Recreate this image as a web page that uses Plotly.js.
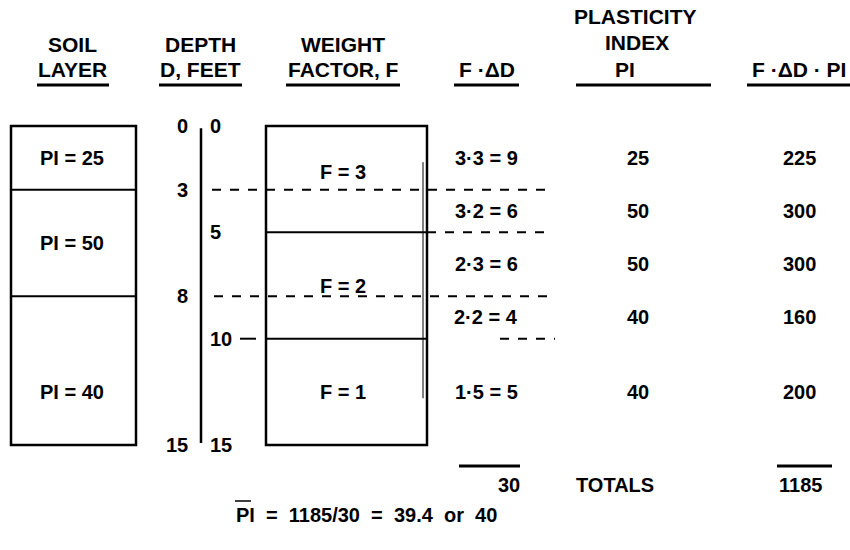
<!DOCTYPE html>
<html><head><meta charset="utf-8">
<script src="https://cdn.plot.ly/plotly-3.0.1.min.js"></script>
<style>html,body{margin:0;padding:0;background:#fff}#plot{width:850px;height:550px}</style>
</head><body><div id="plot"></div>
<script>
// ---- data ----
const soilTop = [0, 3, 8];
const soilBottom = [3, 8, 15];
const soilPI = [25, 50, 40];
const weightTop = [0, 5, 10];
const weightBottom = [5, 10, 15];
const weightF = [3, 2, 1];
const subTop = [0, 3, 5, 8, 10];
const subBottom = [3, 5, 8, 10, 15];
const subF = [3, 3, 2, 2, 1];
const subDD = [3, 2, 3, 2, 5];
const subFDD = [9, 6, 6, 4, 5];
const subPI = [25, 50, 50, 40, 40];
const subProd = [225, 300, 300, 160, 200];
const totalFDD = 30;
const totalProd = 1185;
const avgPI = 39.4;
const roundedPI = 40;

// ---- layout helpers ----
const PX_PER_FT = 21.27, TOP_PX = 126;
const py = p => 1 - p / 550; // paper y from pixel
const FONT = {family: 'Liberation Sans, Arial, sans-serif', size: 20, color: '#000'};
const HFONT = {family: 'Liberation Sans, Arial, sans-serif', size: 21, color: '#000'};
const ann = [], shapes = [];
function txt(x, y, t, opt) {
  ann.push(Object.assign({x: x, y: y, xref: 'x', yref: 'y', text: '<b>' + t + '</b>', showarrow: false,
    font: FONT, xanchor: 'center', yanchor: 'middle'}, opt || {}));
}
function ptxt(x, p, t, opt) { txt(x, py(p), t, Object.assign({yref: 'paper'}, opt || {})); }
function htxt(x, p, t) { ptxt(x, p, t, {font: HFONT}); }
function line(x0, x1, y0, y1, w, dash, yref) {
  shapes.push({type: 'line', xref: 'x', yref: yref || 'y', x0: x0, x1: x1, y0: y0, y1: y1,
    line: {color: '#000', width: w, dash: dash || 'solid'}});
}

// headers
htxt(72, 45, 'SOIL'); htxt(72, 70, 'LAYER'); line(37, 109, py(85), py(85), 3, 'solid', 'paper');
htxt(200, 45, 'DEPTH'); htxt(200, 70, 'D, FEET'); line(159, 242, py(85), py(85), 3, 'solid', 'paper');
htxt(343, 45, 'WEIGHT'); htxt(343, 70, 'FACTOR, F'); line(286, 400, py(85), py(85), 3, 'solid', 'paper');
htxt(487, 70, 'F ·ΔD'); line(454, 519, py(85), py(85), 3, 'solid', 'paper');
htxt(635, 17, 'PLASTICITY'); htxt(637, 43, 'INDEX'); htxt(625, 70, 'PI'); line(576, 711, py(85), py(85), 3, 'solid', 'paper');
htxt(799, 70, 'F ·ΔD · PI'); line(747, 850, py(85), py(85), 3, 'solid', 'paper');

// soil layer column
shapes.push({type: 'rect', xref: 'x', yref: 'y', x0: 11, x1: 136, y0: soilTop[0], y1: soilBottom[soilBottom.length - 1],
  line: {color: '#000', width: 2.5}});
soilTop.forEach((t, i) => {
  if (i > 0) line(11, 136, t, t, 2);
  const mid = i === 2 ? 12.5 : (t + soilBottom[i]) / 2;
  txt(72, mid, 'PI = ' + soilPI[i]);
});

// depth scale
line(201, 201, 0.1, 14.9, 2.5);
const leftLabels = [0].concat(soilBottom);
leftLabels.forEach(d => txt(190, d, String(d), {xanchor: 'right'}));
const rightLabels = [0].concat(weightBottom);
rightLabels.forEach(d => txt(208, d, String(d), {xanchor: 'left'}));

// weight factor column
shapes.push({type: 'rect', xref: 'x', yref: 'y', x0: 266, x1: 427, y0: weightTop[0], y1: weightBottom[weightBottom.length - 1],
  line: {color: '#000', width: 2.5}});
line(423, 423, 1.7, 12.8, 1);
weightTop.forEach((t, i) => {
  if (i > 0) line(266, 427, t, t, 2);
  txt(343, (t + weightBottom[i]) / 2 - (i === 0 ? 0.35 : 0), 'F = ' + weightF[i]);
});

// sublayer boundary dashes
line(212, 553, soilBottom[0], soilBottom[0], 2, 'dash');
line(214, 553, soilBottom[1], soilBottom[1], 2, 'dash');
line(427, 553, weightBottom[0], weightBottom[0], 2, 'dash');
line(240, 256, weightBottom[1], weightBottom[1], 2, 'solid');
line(500, 555, weightBottom[1], weightBottom[1], 2, 'dash');

// table rows
subTop.forEach((t, i) => {
  const mid = (t + subBottom[i]) / 2;
  txt(486, mid, subF[i] + '·' + subDD[i] + ' = ' + subFDD[i]);
  txt(638, mid, String(subPI[i]));
  txt(799, mid, String(subProd[i]));
});

// totals
line(459, 520, py(466), py(466), 3, 'solid', 'paper');
ptxt(522, 485, String(totalFDD), {xanchor: 'right'});
ptxt(615, 485, 'TOTALS');
line(777, 832, py(466), py(466), 3, 'solid', 'paper');
ptxt(800, 485, String(totalProd));

// average
ptxt(234, 515, 'PI &nbsp;= &nbsp;' + totalProd + '/' + totalFDD + ' &nbsp;= &nbsp;' + avgPI + ' &nbsp;or &nbsp;' + roundedPI, {xanchor: 'left'});
line(235, 251, py(501), py(501), 1.5, 'solid', 'paper');

const layout = {
  width: 850, height: 550, margin: {l: 0, r: 0, t: 0, b: 0},
  paper_bgcolor: '#fff', plot_bgcolor: '#fff', showlegend: false,
  xaxis: {range: [0, 850], visible: false, fixedrange: true},
  yaxis: {range: [(550 - TOP_PX) / PX_PER_FT, -TOP_PX / PX_PER_FT], visible: false, fixedrange: true},
  annotations: ann, shapes: shapes
};
Plotly.newPlot('plot', [{x: [], y: [], type: 'scatter', mode: 'lines', hoverinfo: 'skip'}], layout, {displayModeBar: false, staticPlot: true});
</script></body></html>
